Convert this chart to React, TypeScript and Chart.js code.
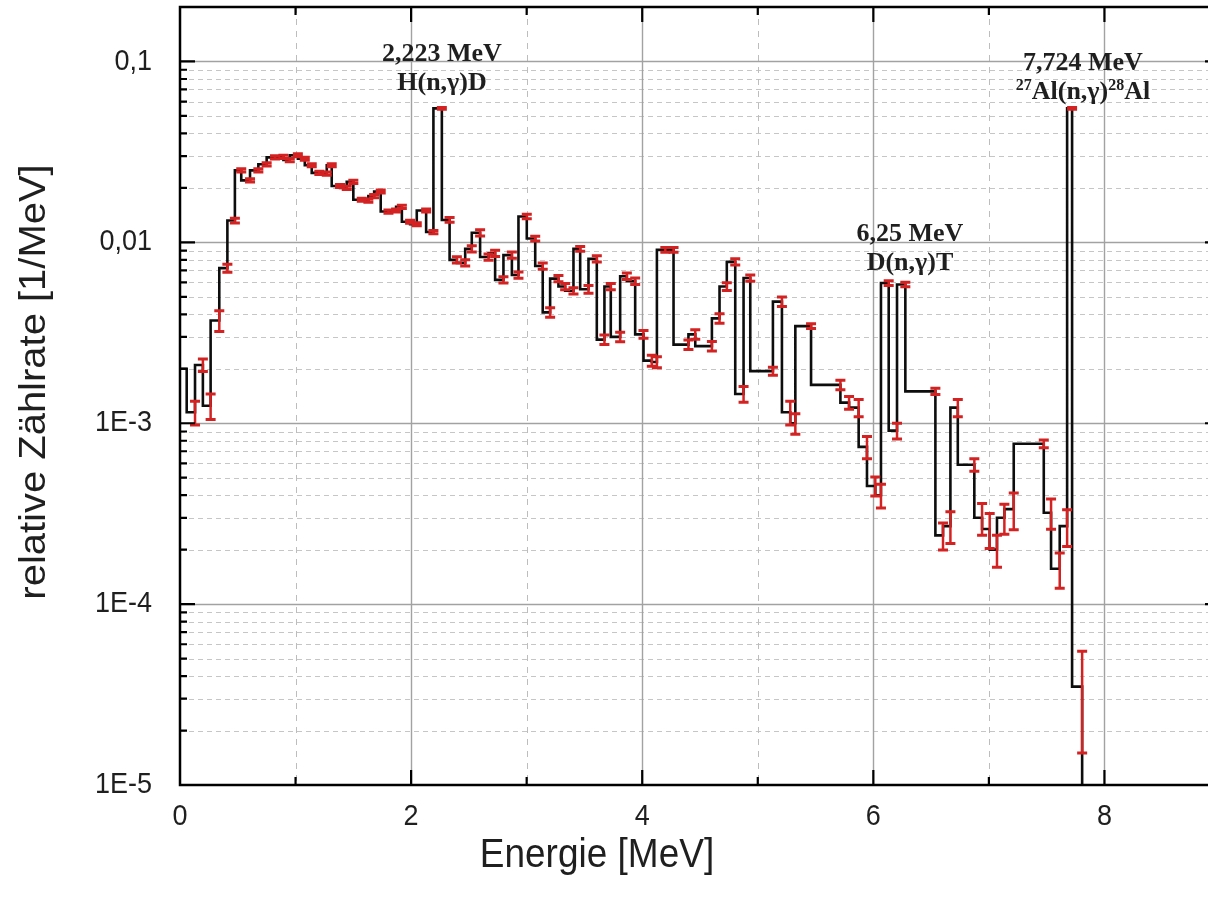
import React, { useEffect, useRef } from "react";
import { Chart, registerables } from "chart.js";

Chart.register(...registerables);

// ---- data (right edge of each step, relative count rate, relative error) ----
const energyMeV = [
  0, 0.058, 0.13, 0.198, 0.265, 0.34, 0.41, 0.475, 0.53, 0.606,
  0.678, 0.75, 0.822, 0.895, 0.95, 1.02, 1.08, 1.14, 1.206, 1.27,
  1.313, 1.385, 1.443, 1.5, 1.573, 1.63, 1.68, 1.737, 1.804, 1.87,
  1.92, 1.991, 2.049, 2.13, 2.193, 2.266, 2.333, 2.396, 2.468, 2.525,
  2.597, 2.67, 2.727, 2.799, 2.872, 2.929, 3.001, 3.074, 3.139, 3.203,
  3.275, 3.333, 3.405, 3.463, 3.535, 3.607, 3.673, 3.728, 3.809, 3.867,
  3.939, 4.011, 4.083, 4.127, 4.2, 4.271, 4.4, 4.459, 4.603, 4.669,
  4.732, 4.805, 4.877, 4.935, 5.131, 5.209, 5.281, 5.325, 5.461, 5.715,
  5.79, 5.873, 5.945, 6.017, 6.066, 6.133, 6.205, 6.277, 6.537, 6.603,
  6.667, 6.731, 6.874, 6.941, 7.007, 7.07, 7.134, 7.215, 7.475, 7.538,
  7.613, 7.677, 7.72, 7.807, 7.9,
];

const relRate = [
  2.0e-3, 2.0e-3, 1.15e-3, 2.1e-3, 1.25e-3, 3.7e-3, 7.2e-3, 1.32e-2, 2.5e-2, 2.2e-2,
  2.5e-2, 2.7e-2, 2.95e-2, 2.97e-2, 2.85e-2, 3.03e-2, 2.9e-2, 2.67e-2, 2.42e-2, 2.4e-2,
  2.67e-2, 2.05e-2, 2.0e-2, 2.16e-2, 1.72e-2, 1.7e-2, 1.8e-2, 1.91e-2, 1.48e-2, 1.5e-2,
  1.57e-2, 1.3e-2, 1.26e-2, 1.5e-2, 1.14e-2, 5.5e-2, 1.33e-2, 8.0e-3, 7.7e-3, 9.2e-3,
  1.13e-2, 8.3e-3, 8.7e-3, 6.2e-3, 8.5e-3, 6.6e-3, 1.39e-2, 1.05e-2, 7.4e-3, 4.1e-3,
  6.3e-3, 5.7e-3, 5.4e-3, 9.2e-3, 5.5e-3, 8.1e-3, 2.9e-3, 5.7e-3, 3.0e-3, 6.5e-3,
  6.1e-3, 3.1e-3, 2.22e-3, 2.18e-3, 9.1e-3, 9.1e-3, 2.72e-3, 3.1e-3, 2.67e-3, 3.8e-3,
  5.7e-3, 7.8e-3, 1.45e-3, 6.35e-3, 1.94e-3, 4.7e-3, 1.15e-3, 1.0e-3, 3.44e-3, 1.63e-3,
  1.3e-3, 1.22e-3, 7.4e-4, 4.5e-4, 4.0e-4, 5.96e-3, 9.1e-4, 5.85e-3, 1.5e-3, 2.4e-4,
  2.7e-4, 1.22e-3, 5.9e-4, 3.0e-4, 2.6e-4, 2.0e-4, 3.0e-4, 3.35e-4, 7.7e-4, 3.2e-4,
  1.57e-4, 2.7e-4, 5.5e-2, 3.5e-5, 1e-7,
];

const relError = [
  0, 0, 0.15, 0.08, 0.16, 0.13, 0.05, 0.03, 0.02, 0.02,
  0.02, 0.02, 0.02, 0.02, 0.02, 0.02, 0.02, 0.02, 0.02, 0.02,
  0.02, 0.02, 0.02, 0.02, 0.02, 0.02, 0.02, 0.02, 0.02, 0.02,
  0.02, 0.02, 0.02, 0.02, 0.02, 0.012, 0.03, 0.04, 0.04, 0.04,
  0.04, 0.04, 0.04, 0.04, 0.04, 0.04, 0.03, 0.03, 0.04, 0.06,
  0.04, 0.04, 0.04, 0.03, 0.05, 0.04, 0.06, 0.04, 0.06, 0.04,
  0.04, 0.05, 0.07, 0.07, 0.03, 0.03, 0.06, 0.06, 0.06, 0.06,
  0.05, 0.04, 0.1, 0.04, 0.05, 0.06, 0.15, 0.13, 0.03, 0.06,
  0.08, 0.11, 0.14, 0.12, 0.15, 0.03, 0.1, 0.03, 0.04, 0.17,
  0.2, 0.11, 0.08, 0.2, 0.22, 0.2, 0.19, 0.23, 0.05, 0.19,
  0.22, 0.23, 0.012, 0.57, 0,
];

const xTickValues = [0, 2, 4, 6, 8];
const xTickLabels = ["0", "2", "4", "6", "8"];
const yTickValues = [0.1, 0.01, 1e-3, 1e-4, 1e-5];
const yTickLabels = ["0,1", "0,01", "1E-3", "1E-4", "1E-5"];

const xTitle = "Energie [MeV]";
const yTitle = "relative Zählrate [1/MeV]";

type Part = { t: string; sup?: boolean };
const peakLabelLine1 = ["2,223 MeV", "6,25 MeV", "7,724 MeV"];
const peakLabelLine2: Part[][] = [
  [{ t: "H(n,γ)D" }],
  [{ t: "D(n,γ)T" }],
  [{ t: "27", sup: true }, { t: "Al(n,γ)" }, { t: "28", sup: true }, { t: "Al" }],
];
const peakLabelMeV = [2.267, 6.317, 7.814];
const peakLabelRate = [0.1006, 0.0102, 0.0897];

// ---- styles ----
const W = 1230;
const H = 897;
const SANS = '"Liberation Sans", Arial, sans-serif';
const SERIF = '"Liberation Serif", "Times New Roman", serif';
const STRETCH = 1.08;
const TEXT = "#1f1f1f";

function stretchedText(
  ctx: CanvasRenderingContext2D,
  text: string,
  x: number,
  y: number,
  align: CanvasTextAlign,
  rotate = false
) {
  ctx.save();
  ctx.translate(x, y);
  if (rotate) {
    ctx.rotate(-Math.PI / 2);
    ctx.scale(STRETCH, 1);
  } else {
    ctx.scale(1, STRETCH);
  }
  ctx.textAlign = align;
  ctx.textBaseline = "middle";
  ctx.fillText(text, 0, 0);
  ctx.restore();
}

const decorPlugin = {
  id: "decor",
  beforeDatasetsDraw(chart: any) {
    const { ctx, chartArea: a } = chart;
    const xs = chart.scales.x;
    const ys = chart.scales.y;
    ctx.save();
    ctx.beginPath();
    ctx.rect(a.left, a.top, a.right - a.left, a.bottom - a.top);
    ctx.clip();
    ctx.lineWidth = 1;
    // minor y grid
    ctx.strokeStyle = "#c6c6c6";
    ctx.setLineDash([5, 4]);
    for (let e = -5; e <= -1; e++) {
      for (let m = 2; m <= 9; m++) {
        const v = m * Math.pow(10, e);
        if (v > ys.max) continue;
        const py = Math.round(ys.getPixelForValue(v)) + 0.5;
        ctx.beginPath();
        ctx.moveTo(a.left, py);
        ctx.lineTo(a.right, py);
        ctx.stroke();
      }
    }
    // minor x grid
    ctx.strokeStyle = "#bdbdbd";
    ctx.setLineDash([6, 6]);
    for (let v = 1; v < 9; v += 2) {
      const px = Math.round(xs.getPixelForValue(v)) + 0.5;
      ctx.beginPath();
      ctx.moveTo(px, a.top);
      ctx.lineTo(px, a.bottom);
      ctx.stroke();
    }
    // major grid
    ctx.setLineDash([]);
    ctx.strokeStyle = "#a2a2a2";
    ctx.lineWidth = 1.4;
    for (let e = -4; e <= -1; e++) {
      const py = Math.round(ys.getPixelForValue(Math.pow(10, e))) + 0.5;
      ctx.beginPath();
      ctx.moveTo(a.left, py);
      ctx.lineTo(a.right, py);
      ctx.stroke();
    }
    for (let v = 2; v <= 8; v += 2) {
      const px = Math.round(xs.getPixelForValue(v)) + 0.5;
      ctx.beginPath();
      ctx.moveTo(px, a.top);
      ctx.lineTo(px, a.bottom);
      ctx.stroke();
    }
    ctx.restore();
  },
  afterDatasetsDraw(chart: any) {
    const { ctx, chartArea: a } = chart;
    const xs = chart.scales.x;
    const ys = chart.scales.y;
    ctx.save();
    ctx.beginPath();
    ctx.rect(a.left, a.top, a.right - a.left, a.bottom - a.top);
    ctx.clip();
    ctx.strokeStyle = "#d42222";
    ctx.lineWidth = 2.5;
    const cap = 5;
    for (let i = 0; i < energyMeV.length; i++) {
      const err = relError[i] * relRate[i];
      if (err <= 0) continue;
      const px = xs.getPixelForValue(energyMeV[i]);
      const hi = ys.getPixelForValue(relRate[i] + err);
      const lo = ys.getPixelForValue(Math.max(relRate[i] - err, 1e-9));
      ctx.beginPath();
      ctx.moveTo(px, hi);
      ctx.lineTo(px, lo);
      ctx.stroke();
      ctx.lineWidth = 3;
      ctx.beginPath();
      ctx.moveTo(px - cap, hi);
      ctx.lineTo(px + cap, hi);
      ctx.moveTo(px - cap, lo);
      ctx.lineTo(px + cap, lo);
      ctx.stroke();
      ctx.lineWidth = 2.5;
    }
    ctx.restore();
  },
  afterDraw(chart: any) {
    const { ctx, chartArea: a } = chart;
    const xs = chart.scales.x;
    const ys = chart.scales.y;
    ctx.save();
    // inward ticks
    ctx.strokeStyle = "#000";
    ctx.lineWidth = 2.2;
    for (let e = -5; e <= -1; e++) {
      for (let m = 1; m <= 9; m++) {
        const v = m * Math.pow(10, e);
        if (v > ys.max || (e === -5 && m === 1)) continue;
        const len = m === 1 ? 15 : 7;
        const py = ys.getPixelForValue(v);
        ctx.beginPath();
        ctx.moveTo(a.left, py);
        ctx.lineTo(a.left + len, py);
        ctx.moveTo(a.right, py);
        ctx.lineTo(a.right - len, py);
        ctx.stroke();
      }
    }
    for (let v = 1; v <= 8; v++) {
      const len = v % 2 === 0 ? 15 : 8;
      const px = xs.getPixelForValue(v);
      ctx.beginPath();
      ctx.moveTo(px, a.top);
      ctx.lineTo(px, a.top + len);
      ctx.moveTo(px, a.bottom);
      ctx.lineTo(px, a.bottom - len);
      ctx.stroke();
    }
    // frame
    ctx.lineWidth = 2.5;
    ctx.strokeRect(a.left, a.top, a.right - a.left, a.bottom - a.top);

    // tick labels
    ctx.fillStyle = TEXT;
    ctx.font = `27px ${SANS}`;
    xTickValues.forEach((v, i) => {
      stretchedText(ctx, xTickLabels[i], xs.getPixelForValue(v), 817, "center");
    });
    yTickValues.forEach((v, i) => {
      stretchedText(ctx, yTickLabels[i], 152, ys.getPixelForValue(v), "right");
    });

    // axis titles
    ctx.font = `37px ${SANS}`;
    stretchedText(ctx, xTitle, 597, 856, "center");
    stretchedText(ctx, yTitle, 35, 382, "center", true);

    // peak annotations
    const mainFont = `bold 26px ${SERIF}`;
    const supFont = `bold 16px ${SERIF}`;
    ctx.textBaseline = "alphabetic";
    ctx.textAlign = "left";
    peakLabelLine1.forEach((l1, i) => {
      const cx = xs.getPixelForValue(peakLabelMeV[i]);
      const base = ys.getPixelForValue(peakLabelRate[i]);
      ctx.font = mainFont;
      ctx.textAlign = "center";
      ctx.fillText(l1, cx, base);
      ctx.textAlign = "left";
      const parts = peakLabelLine2[i];
      let total = 0;
      parts.forEach((p) => {
        ctx.font = p.sup ? supFont : mainFont;
        total += ctx.measureText(p.t).width;
      });
      let x = cx - total / 2;
      parts.forEach((p) => {
        ctx.font = p.sup ? supFont : mainFont;
        ctx.fillText(p.t, x, base + 29 - (p.sup ? 9 : 0));
        x += ctx.measureText(p.t).width;
      });
    });
    ctx.restore();
  },
};

export default function App() {
  const canvasRef = useRef<HTMLCanvasElement | null>(null);

  useEffect(() => {
    const canvas = canvasRef.current;
    if (!canvas) return;
    const chart = new Chart(canvas, {
      type: "line",
      data: {
        datasets: [
          {
            data: energyMeV.map((e, i) => ({ x: e, y: relRate[i] })),
            borderColor: "#0d0d0d",
            borderWidth: 2.6,
            pointRadius: 0,
            stepped: "after",
            fill: false,
            tension: 0,
          },
        ],
      },
      options: {
        responsive: false,
        maintainAspectRatio: false,
        animation: false,
        devicePixelRatio: 1,
        events: [],
        layout: { padding: { top: 7, right: 10, left: 0, bottom: 0 } },
        plugins: { legend: { display: false }, tooltip: { enabled: false } },
        scales: {
          x: {
            type: "linear",
            min: 0,
            max: 9,
            grid: { display: false },
            border: { display: false },
            ticks: { display: false },
            afterFit: (s: any) => {
              s.height = 112;
            },
          },
          y: {
            type: "logarithmic",
            min: 1e-5,
            max: 0.2,
            grid: { display: false },
            border: { display: false },
            ticks: { display: false },
            afterFit: (s: any) => {
              s.width = 180;
            },
          },
        },
      } as any,
      plugins: [decorPlugin],
    });
    return () => chart.destroy();
  }, []);

  return (
    <div
      style={{
        position: "fixed",
        left: 0,
        top: 0,
        width: "100vw",
        height: "100vh",
        overflow: "hidden",
        background: "#fff",
      }}
    >
      <canvas
        ref={canvasRef}
        width={W}
        height={H}
        style={{ display: "block", width: W, height: H }}
      />
    </div>
  );
}
